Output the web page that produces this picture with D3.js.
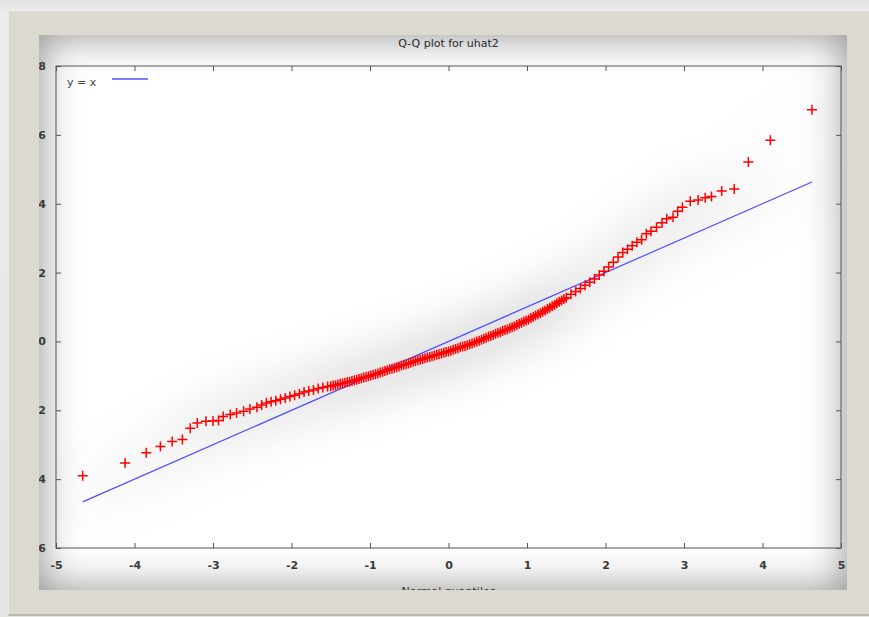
<!DOCTYPE html>
<html lang="en">
  <head>
    <meta charset="utf-8"/>
    <script src="https://d3js.org/d3.v7.min.js"></script>
    <title>Q-Q plot for uhat2</title>
  </head>
  <body>
    <div id="frame"></div>
    <div id="panel"></div>
    <div id="qq_div"><svg id="qq_plot"></svg></div>
  </body>
</html>

<style>
  body { margin: 0; background: linear-gradient(#e2e2e2, #ececec 12px, #e4e4e4); width: 869px; height: 617px; overflow: hidden; }
  #frame { position: absolute; left: 8px; top: 10px; width: 860px; height: 603px;
           background: #dcd9d0; border-top: 1px solid #f3f2ee; border-left: 1px solid #ebe9e3;
           border-bottom: 2px solid #b9b7b0; }
  #panel { position: absolute; left: 39px; top: 35px; width: 808px; height: 555px;
           background: #fff; box-shadow: inset 0 0 40px rgba(0,0,0,0.45); }
  #qq_div { position: absolute; left: 0; top: 0; }
  text { font-family: "DejaVu Sans", sans-serif; }
</style>

<script>
  const width = 869;
  const height = 617;
  const plot = {left: 56, right: 841, top: 66, bottom: 548};

  // normal quantiles (x) and sorted residuals (y)
  const quantiles = [
    -4.66, -4.12, -3.85, -3.67, -3.52, -3.39, -3.29, -3.20, -3.09, -3.00, -2.93, -2.87, -2.78, -2.70, -2.61, -2.53, -2.44,
    -2.38, -2.32, -2.26, -2.20, -2.14, -2.08, -2.02, -1.96, -1.90, -1.84, -1.78, -1.72, -1.66, -1.60, -1.54,
    -1.50, -1.47, -1.44, -1.41, -1.38, -1.35, -1.32, -1.29, -1.26, -1.23, -1.20, -1.17, -1.14, -1.11, -1.08, -1.05, -1.02,
    -0.99, -0.96, -0.93, -0.90, -0.87, -0.84, -0.81, -0.78, -0.75, -0.72, -0.69, -0.66, -0.63, -0.60, -0.57, -0.54, -0.51,
    -0.48, -0.45, -0.42, -0.39, -0.36, -0.33, -0.30, -0.27, -0.24, -0.21, -0.18, -0.15, -0.12, -0.09, -0.06, -0.03,
    0.00, 0.03, 0.06, 0.09, 0.12, 0.15, 0.18, 0.21, 0.24, 0.27, 0.30, 0.33, 0.36, 0.39, 0.42, 0.45, 0.48, 0.51,
    0.54, 0.57, 0.60, 0.63, 0.66, 0.69, 0.72, 0.75, 0.78, 0.81, 0.84, 0.87, 0.90, 0.93, 0.96, 0.99, 1.02, 1.05,
    1.08, 1.11, 1.14, 1.17, 1.20, 1.23, 1.26, 1.29, 1.32, 1.35, 1.38, 1.41, 1.44, 1.47, 1.50,
    1.56, 1.62, 1.68, 1.74, 1.80, 1.86, 1.92, 1.98, 2.04, 2.10, 2.16, 2.22, 2.28, 2.34, 2.40,
    2.46, 2.52, 2.58, 2.65, 2.72, 2.78, 2.86, 2.92, 2.98, 3.08, 3.18, 3.27, 3.35, 3.48, 3.64, 3.82, 4.10, 4.63
  ];
  const residuals = [
    -3.90, -3.53, -3.23, -3.05, -2.91, -2.85, -2.52, -2.37, -2.32, -2.31, -2.30, -2.18, -2.12, -2.08, -2.03, -1.96, -1.91,
    -1.85, -1.79, -1.75, -1.72, -1.68, -1.64, -1.60, -1.56, -1.52, -1.47, -1.44, -1.41, -1.37, -1.34, -1.31,
    -1.30, -1.28, -1.27, -1.25, -1.23, -1.22, -1.20, -1.18, -1.17, -1.15, -1.13, -1.11, -1.09, -1.07, -1.05, -1.03, -1.01,
    -0.99, -0.97, -0.95, -0.93, -0.90, -0.88, -0.86, -0.84, -0.81, -0.79, -0.77, -0.75, -0.73, -0.70, -0.68, -0.66, -0.64,
    -0.62, -0.59, -0.57, -0.55, -0.53, -0.51, -0.49, -0.47, -0.45, -0.43, -0.41, -0.39, -0.37, -0.35, -0.33, -0.31,
    -0.29, -0.27, -0.24, -0.22, -0.20, -0.17, -0.15, -0.13, -0.11, -0.08, -0.06, -0.03, 0.00, 0.02, 0.05, 0.08, 0.11, 0.14,
    0.16, 0.19, 0.22, 0.25, 0.27, 0.30, 0.33, 0.35, 0.38, 0.41, 0.44, 0.48, 0.51, 0.54, 0.58, 0.61, 0.64, 0.68,
    0.72, 0.75, 0.79, 0.82, 0.86, 0.90, 0.94, 0.98, 1.02, 1.06, 1.11, 1.15, 1.19, 1.23, 1.27,
    1.37, 1.45, 1.54, 1.63, 1.72, 1.81, 1.93, 2.04, 2.16, 2.30, 2.45, 2.58, 2.68, 2.78, 2.88,
    2.95, 3.13, 3.20, 3.32, 3.45, 3.56, 3.61, 3.78, 3.90, 4.07, 4.11, 4.17, 4.21, 4.37, 4.43, 5.21, 5.84, 6.73
  ];
  const xTicks = [-5, -4, -3, -2, -1, 0, 1, 2, 3, 4, 5];
  const yTicks = [-6, -4, -2, 0, 2, 4, 6, 8];

  const data = quantiles.map((q, i) => ({q: q, r: residuals[i]}));

  const svg = d3.select("#qq_plot")
    .attr("width", width)
    .attr("height", height);

  const defs = svg.append("defs");
  defs.append("clipPath").attr("id", "panel-clip")
    .append("rect").attr("x", 39).attr("y", 35).attr("width", 808).attr("height", 555);

  // wide soft grey haze around the marks
  const haze = defs.append("filter").attr("id", "haze")
    .attr("filterUnits", "userSpaceOnUse")
    .attr("x", 0).attr("y", 0).attr("width", width).attr("height", height);
  haze.append("feGaussianBlur").attr("in", "SourceAlpha").attr("stdDeviation", 26).attr("result", "b");
  haze.append("feColorMatrix").attr("in", "b").attr("type", "matrix")
    .attr("values", "0 0 0 0 0  0 0 0 0 0  0 0 0 0 0  0 0 0 0.75 0").attr("result", "s");
  const merge = haze.append("feMerge");
  merge.append("feMergeNode").attr("in", "s");
  merge.append("feMergeNode").attr("in", "SourceGraphic");

  defs.append("filter").attr("id", "soft")
    .append("feGaussianBlur").attr("in", "SourceGraphic").attr("stdDeviation", 0.45);

  const root = svg.append("g").attr("clip-path", "url(#panel-clip)");

  const xScale = d3.scaleLinear().domain([-5, 5]).range([plot.left, plot.right]);
  const yScale = d3.scaleLinear().domain([-6, 8]).range([plot.bottom, plot.top]);

  // title
  root.append("text")
    .attr("x", (plot.left + plot.right) / 2)
    .attr("y", 47)
    .attr("text-anchor", "middle")
    .attr("font-size", 11)
    .attr("fill", "#2a2a2a")
    .text("Q-Q plot for uhat2");

  // axes, gnuplot style: inward ticks on all four sides
  const styleAxis = (g) => {
    g.select(".domain").remove();
    g.selectAll(".tick line").attr("stroke", "#555");
    g.selectAll(".tick text")
      .attr("font-family", "DejaVu Sans, sans-serif")
      .attr("font-size", 11)
      .attr("font-weight", "bold")
      .attr("fill", "#3a3a3a");
  };

  root.append("g")
    .attr("transform", "translate(0," + plot.bottom + ")")
    .call(d3.axisBottom(xScale).tickValues(xTicks).tickSize(-5).tickPadding(13).tickFormat((d) => String(d)))
    .call(styleAxis);

  root.append("g")
    .attr("transform", "translate(0," + plot.top + ")")
    .call(d3.axisTop(xScale).tickValues(xTicks).tickSize(-5).tickFormat(""))
    .call(styleAxis);

  root.append("g")
    .attr("transform", "translate(" + plot.left + ",0)")
    .call(d3.axisLeft(yScale).tickValues(yTicks).tickSize(-5).tickPadding(10).tickFormat((d) => String(d)))
    .call(styleAxis);

  root.append("g")
    .attr("transform", "translate(" + plot.right + ",0)")
    .call(d3.axisRight(yScale).tickValues(yTicks).tickSize(-5).tickFormat(""))
    .call(styleAxis);

  root.append("rect")
    .attr("x", plot.left)
    .attr("y", plot.top)
    .attr("width", plot.right - plot.left)
    .attr("height", plot.bottom - plot.top)
    .attr("fill", "none")
    .attr("stroke", "#555")
    .attr("stroke-width", 1);

  // x axis title, cut by the bottom of the picture
  root.append("text")
    .attr("x", (plot.left + plot.right) / 2)
    .attr("y", 595)
    .attr("text-anchor", "middle")
    .attr("font-size", 11)
    .attr("fill", "#333")
    .text("Normal quantiles");

  const marks = root.append("g").attr("filter", "url(#haze)");

  // reference line y = x
  const ext = d3.extent(quantiles);
  marks.append("line")
    .attr("x1", xScale(ext[0])).attr("y1", yScale(ext[0]))
    .attr("x2", xScale(ext[1])).attr("y2", yScale(ext[1]))
    .attr("stroke", "#5050ff")
    .attr("stroke-width", 1.3);

  marks.append("g")
    .attr("filter", "url(#soft)")
    .selectAll("path")
    .data(data)
    .enter()
    .append("path")
    .attr("d", (d) => {
      const cx = xScale(d.q), cy = yScale(d.r);
      return "M" + (cx - 5) + "," + cy + "H" + (cx + 5) + "M" + cx + "," + (cy - 5) + "V" + (cy + 5);
    })
    .attr("stroke", "#ff0000")
    .attr("stroke-width", 1.5)
    .attr("fill", "none");

  // legend
  root.append("text")
    .attr("x", 67)
    .attr("y", 86)
    .attr("font-size", 11)
    .attr("fill", "#444")
    .text("y = x");

  root.append("line")
    .attr("x1", 112).attr("x2", 148)
    .attr("y1", 79).attr("y2", 79)
    .attr("stroke", "#5050ff")
    .attr("stroke-width", 1.3);
</script>
